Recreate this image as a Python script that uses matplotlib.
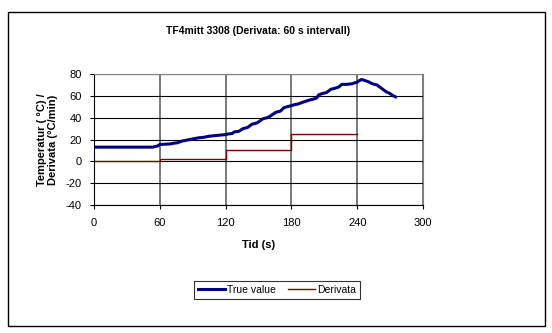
import numpy as np
import matplotlib.pyplot as plt
from matplotlib.patches import Rectangle

plt.rcParams['font.family'] = ['Liberation Sans', 'DejaVu Sans']
plt.rcParams['axes.unicode_minus'] = False

# True value (temperatur)
t_true = [0, 54, 55, 58, 60, 62, 70, 72, 76, 80, 85, 90, 95, 100, 105, 110, 115,
          120, 122, 126, 128, 132, 136, 140, 144, 148, 150, 154, 158, 160, 163,
          166, 170, 173, 176, 180, 183, 186, 190, 193, 196, 200, 203, 205, 208,
          212, 216, 220, 223, 226, 230, 235, 238, 240, 242, 244, 247, 250, 254,
          258, 262, 266, 270, 273, 275]
v_true = [13, 13, 13.5, 14, 15.5, 15.5, 16, 16.5, 17, 18.5, 19.5, 20.5, 21.5, 22,
          23, 23.5, 24, 24.5, 25, 25.5, 27, 27.5, 30, 31, 34, 35, 36, 39, 40, 41,
          43, 45, 46, 49, 50, 51, 52, 52.5, 54, 55, 56, 57, 58, 61, 62, 63, 66,
          67, 68, 70.5, 70.5, 71, 72, 72.5, 74, 75, 74, 73, 71, 70, 67, 64, 62,
          60, 59]

# Derivata (steg per 60 s)
t_der = [0, 60, 120, 180, 240]
v_der = [0, 2.5, 10, 25, 25]

fig = plt.figure(figsize=(5.52, 3.33), dpi=100)
ax = fig.add_axes([94 / 552, 1 - 205 / 333, 329 / 552, 131 / 333])

ax.plot(t_true, v_true, color='#000080', lw=2.2, label='True value')
ax.step(t_der, v_der, where='post', color='#800000', lw=1, label='Derivata')

ax.set_xlim(0, 300)
ax.set_ylim(-40, 80)
ax.set_xticks(np.arange(0, 301, 60))
ax.set_yticks(np.arange(-40, 81, 20))
ax.xaxis.grid(True, color='#555555', lw=1.1)
ax.yaxis.grid(True, color='black', lw=0.8)
ax.set_axisbelow(True)
for side in ['top', 'right']:
    ax.spines[side].set_color('#808080')
ax.tick_params(labelsize=8, length=3, width=0.8, pad=6)

ax.set_title('TF4mitt 3308 (Derivata: 60 s intervall)', fontsize=7.5,
             fontweight='bold', pad=29)
ax.set_xlabel('Tid (s)', fontsize=8, fontweight='bold', labelpad=9)
ax.set_ylabel('Temperatur ( °C) /\nDerivata (°C/min)', fontsize=8,
              fontweight='bold', labelpad=5)

leg = ax.legend(loc='center', bbox_to_anchor=(277 / 552, 1 - 290 / 333),
                bbox_transform=fig.transFigure, ncol=2, fontsize=7.5,
                frameon=True, fancybox=False, handlelength=2.6,
                columnspacing=1.2, handletextpad=0.2, borderpad=0.4)
leg.get_frame().set_edgecolor('black')
leg.get_frame().set_linewidth(0.8)

fig.patches.append(Rectangle((8 / 552, 1 - 326 / 333), 537 / 552, 314 / 333,
                             transform=fig.transFigure, fill=False,
                             edgecolor='black', lw=1))

fig.savefig('out.png', dpi=100)
